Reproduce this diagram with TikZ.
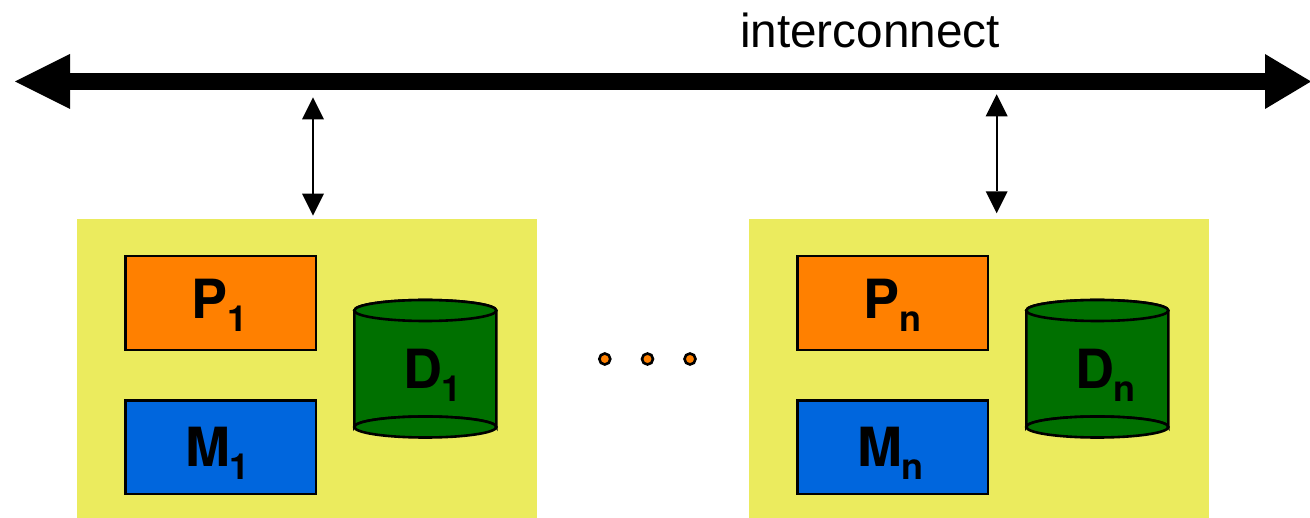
\documentclass[tikz,border=0pt]{standalone}
\usepackage{fontspec}
\setmainfont{Liberation Sans}
\newfontfamily\headfont{TeX Gyre Heros}
\usetikzlibrary{arrows.meta}
\definecolor{boardyellow}{HTML}{EBEB5E}
\definecolor{procorange}{HTML}{FF8000}
\definecolor{memblue}{HTML}{0066DD}
\definecolor{diskgreen}{HTML}{007000}
\newcommand{\bigsub}[2]{\headfont\fontsize{54}{54}\bfseries\selectfont #1\raisebox{-13pt}{\fontsize{36}{36}\selectfont #2}}
\tikzset{
  x=1pt,y=-1pt,
  board/.style={fill=boardyellow,draw=none},
  unit/.style={draw=black,line width=2.6pt},
  lab/.style={anchor=base west,inner sep=0pt,outer sep=0pt,text=black},
  bus/.style={line width=16.3pt,{Triangle[length=55pt,width=55pt,line width=0pt]}-{Triangle[length=46pt,width=55pt,line width=0pt]}},
  link/.style={line width=2.3pt,{Triangle[length=22pt,width=22pt,line width=0pt]}-{Triangle[length=22pt,width=22pt,line width=0pt]}},
  dot/.style={circle,draw=black,fill=procorange,line width=2.6pt,minimum size=11pt,inner sep=0pt}
}
\newcommand{\blockunit}[3]{%
  % #1 x-offset, #2 subscript, #3 name suffix
  \begin{scope}[xshift=#1pt]
    \path[board] (77,219.5) rectangle (537,518);
    \draw[unit,fill=procorange] (125.3,256) rectangle (316,350);
    \draw[unit,fill=memblue] (125.3,400.3) rectangle (316,494);
    \draw[unit,fill=diskgreen] (354.3,310.5) -- (354.3,427) arc[start angle=180,end angle=360,x radius=71,y radius=10.5] -- (496.3,310.5) arc[start angle=0,end angle=180,x radius=71,y radius=-10.5] -- cycle;
    \draw[unit,fill=diskgreen] (425.3,310.5) ellipse[x radius=71,y radius=10.5];
    \draw[unit,fill=diskgreen] (425.3,427) ellipse[x radius=71,y radius=10.5];
    \node[lab] (P#3) at (191,319) {\bigsub{P}{#2}};
    \node[lab] (M#3) at (185,467) {\bigsub{M}{#2}};
    \node[lab] (D#3) at (403,389) {\bigsub{D}{#2}};
  \end{scope}}
\begin{document}
\begin{tikzpicture}
  \useasboundingbox (0,0) rectangle (1310,518);
  \clip (0,0) rectangle (1310,518);
  \blockunit{0}{1}{a}
  \blockunit{672}{n}{b}
  \coordinate (busL) at (15,81.5);
  \coordinate (busR) at (1311,81.5);
  \draw[bus] (busL) -- (busR);
  \coordinate (linkaT) at (313,97.3);
  \coordinate (linkaB) at (313,215.7);
  \coordinate (linkbT) at (996.7,94.3);
  \coordinate (linkbB) at (996.7,213.3);
  \draw[link] (linkaT) -- (linkaB);
  \draw[link] (linkbT) -- (linkbB);
  \node[anchor=base,inner sep=0pt,font=\fontsize{47.7}{48}\selectfont] (ic) at (870,48) {interconnect};
  \node[dot] (d1) at (604.8,359) {};
  \node[dot] (d2) at (647.5,359) {};
  \node[dot] (d3) at (690,359) {};
\end{tikzpicture}
\end{document}
